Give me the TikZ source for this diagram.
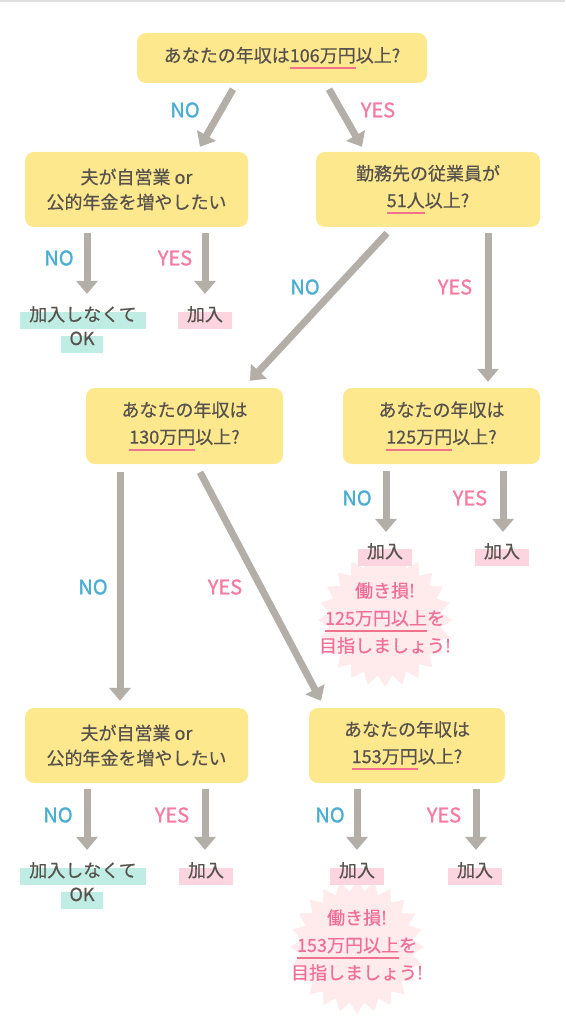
\documentclass[tikz,border=0pt]{standalone}
\usepackage{fontspec}
\setmainfont{Noto Sans CJK JP}[FakeBold=0.6]
\newfontfamily\tagfont{Noto Sans CJK JP}[FakeBold=1.4]
\usetikzlibrary{positioning}
\usetikzlibrary{arrows.meta}
\usetikzlibrary{shapes.geometric}

\definecolor{boxyellow}{HTML}{FDE88E}
\definecolor{inkgray}{HTML}{57524D}
\definecolor{arrowgray}{HTML}{B3AFA8}
\definecolor{noblue}{HTML}{4AAED3}
\definecolor{yespink}{HTML}{F77BA0}
\definecolor{linepink}{HTML}{F0728F}
\definecolor{markpink}{HTML}{FCD5E1}
\definecolor{markmint}{HTML}{BFEDE4}
\definecolor{burstpink}{HTML}{FFEBEB}
\definecolor{losspink}{HTML}{F06E97}

\newcommand\pinkline[1]{\setbox0\hbox{#1}\rlap{\textcolor{linepink}{\rule[-7pt]{\wd0}{2pt}}}\box0}
\newcommand\marker[2]{\setbox0\hbox{#2}\kern-9pt\rlap{\textcolor{#1}{\rule[-8pt]{\dimexpr\wd0+18pt\relax}{17pt}}}\kern9pt\box0}

\tikzset{
  question/.style={fill=boxyellow, rounded corners=9pt, align=center, text=inkgray, inner sep=0pt, font=\fontsize{18}{25}\selectfont},
  answer/.style={anchor=base, inner sep=0pt, text=inkgray, font=\fontsize{18}{22}\selectfont},
  nolabel/.style={text=noblue, font=\tagfont\fontsize{20}{22}\selectfont},
  yeslabel/.style={text=yespink, font=\tagfont\fontsize{20}{22}\selectfont},
  flow/.style={draw=arrowgray, line width=7pt, -{Triangle[width=21pt,length=13pt]}},
  burst/.style={star, star points=24, star point ratio=1.2, fill=burstpink, minimum size=134pt, inner sep=0pt},
  loss/.style={align=center, text=losspink, inner sep=0pt, font=\fontsize{18}{27.5}\selectfont},
}

\begin{document}
\begin{tikzpicture}[x=1pt, y=-1pt]
  \useasboundingbox (0,0) rectangle (565,1024);
  \fill[gray!25] (0,0) rectangle (565,2);

  \node[question, minimum width=290pt, minimum height=50pt] (inc106) at (282,58) {あなたの年収は\pinkline{106万円}以上?};
  \node[question, minimum width=223pt, minimum height=75pt] (self1) at (136.5,189.5) {夫が自営業 or\\公的年金を増やしたい};
  \node[question, minimum width=224pt, minimum height=75pt] (emp51) at (428,189.5) {勤務先の従業員が\\[2pt]\pinkline{51人}以上?};
  \node[question, minimum width=197pt, minimum height=76pt] (inc130) at (184.5,426) {あなたの年収は\\[2pt]\pinkline{130万円}以上?};
  \node[question, minimum width=197pt, minimum height=76pt] (inc125) at (441.5,426) {あなたの年収は\\[2pt]\pinkline{125万円}以上?};
  \node[question, minimum width=223pt, minimum height=75pt] (self2) at (136.5,745.5) {夫が自営業 or\\公的年金を増やしたい};
  \node[question, minimum width=196pt, minimum height=75pt] (inc153) at (407,745.5) {あなたの年収は\\[2pt]\pinkline{153万円}以上?};

  \node[burst] (burst125) at (385,620) {};
  \node[loss] (loss125) at (385,618) {働き損!\\\pinkline{125万円以上}を\\目指しましょう!};
  \node[burst] (burst153) at (357,947) {};
  \node[loss] (loss153) at (357,945) {働き損!\\\pinkline{153万円以上}を\\目指しましょう!};

  \node[answer] (nope1a) at (83,321) {\marker{markmint}{加入しなくて}};
  \node[answer] (nope1b) at (82,345) {\marker{markmint}{OK}};
  \node[answer] (join1) at (205,321) {\marker{markpink}{加入}};
  \node[answer] (join2) at (385,558) {\marker{markpink}{加入}};
  \node[answer] (join3) at (502,558) {\marker{markpink}{加入}};
  \node[answer] (nope2a) at (83,877) {\marker{markmint}{加入しなくて}};
  \node[answer] (nope2b) at (82,901) {\marker{markmint}{OK}};
  \node[answer] (join4) at (206,877) {\marker{markpink}{加入}};
  \node[answer] (join5) at (357,877) {\marker{markpink}{加入}};
  \node[answer] (join6) at (475,877) {\marker{markpink}{加入}};

  \node[nolabel] (no106) at (185,110) {NO};
  \node[yeslabel] (yes106) at (378,110) {YES};
  \node[nolabel] (noself1) at (59,258) {NO};
  \node[yeslabel] (yesself1) at (175,258) {YES};
  \node[nolabel] (no51) at (305,287) {NO};
  \node[yeslabel] (yes51) at (455,287) {YES};
  \node[nolabel] (no130) at (93,587) {NO};
  \node[yeslabel] (yes130) at (225,587) {YES};
  \node[nolabel] (no125) at (357,498) {NO};
  \node[yeslabel] (yes125) at (470,498) {YES};
  \node[nolabel] (noself2) at (58,815) {NO};
  \node[yeslabel] (yesself2) at (172,815) {YES};
  \node[nolabel] (no153) at (330,815) {NO};
  \node[yeslabel] (yes153) at (444,815) {YES};

  \draw[flow] ([xshift=-49pt,yshift=-6pt]inc106.south) -- ([xshift=63.5pt,yshift=5pt]self1.north);
  \draw[flow] ([xshift=47pt,yshift=-6pt]inc106.south) -- ([xshift=-66pt,yshift=5pt]emp51.north);
  \draw[flow] ([xshift=-49.5pt,yshift=-6pt]self1.south) -- ([xshift=4pt,yshift=12pt]nope1a.north);
  \draw[flow] ([xshift=68.5pt,yshift=-6pt]self1.south) -- ([yshift=12pt]join1.north);
  \draw[flow] ([xshift=-41pt,yshift=-6pt]emp51.south) -- ([xshift=65.5pt,yshift=7pt]inc130.north);
  \draw[flow] ([xshift=60pt,yshift=-6pt]emp51.south) -- ([xshift=46.5pt,yshift=6pt]inc125.north);
  \draw[flow] ([xshift=-64.5pt,yshift=-8pt]inc130.south) -- ([xshift=-16.5pt,yshift=7pt]self2.north);
  \draw[flow] ([xshift=15.5pt,yshift=-8pt]inc130.south) -- ([xshift=-86pt,yshift=7pt]inc153.north);
  \draw[flow] ([xshift=-55.5pt,yshift=-7pt]inc125.south) -- ([xshift=1pt,yshift=11pt]join2.north);
  \draw[flow] ([xshift=61.5pt,yshift=-7pt]inc125.south) -- ([xshift=1pt,yshift=11pt]join3.north);
  \draw[flow] ([xshift=-49.5pt,yshift=-6pt]self2.south) -- ([xshift=4pt,yshift=12pt]nope2a.north);
  \draw[flow] ([xshift=68.5pt,yshift=-6pt]self2.south) -- ([xshift=-1pt,yshift=12pt]join4.north);
  \draw[flow] ([xshift=-50pt,yshift=-6pt]inc153.south) -- ([yshift=12pt]join5.north);
  \draw[flow] ([xshift=69pt,yshift=-6pt]inc153.south) -- ([xshift=1pt,yshift=12pt]join6.north);
\end{tikzpicture}
\end{document}
